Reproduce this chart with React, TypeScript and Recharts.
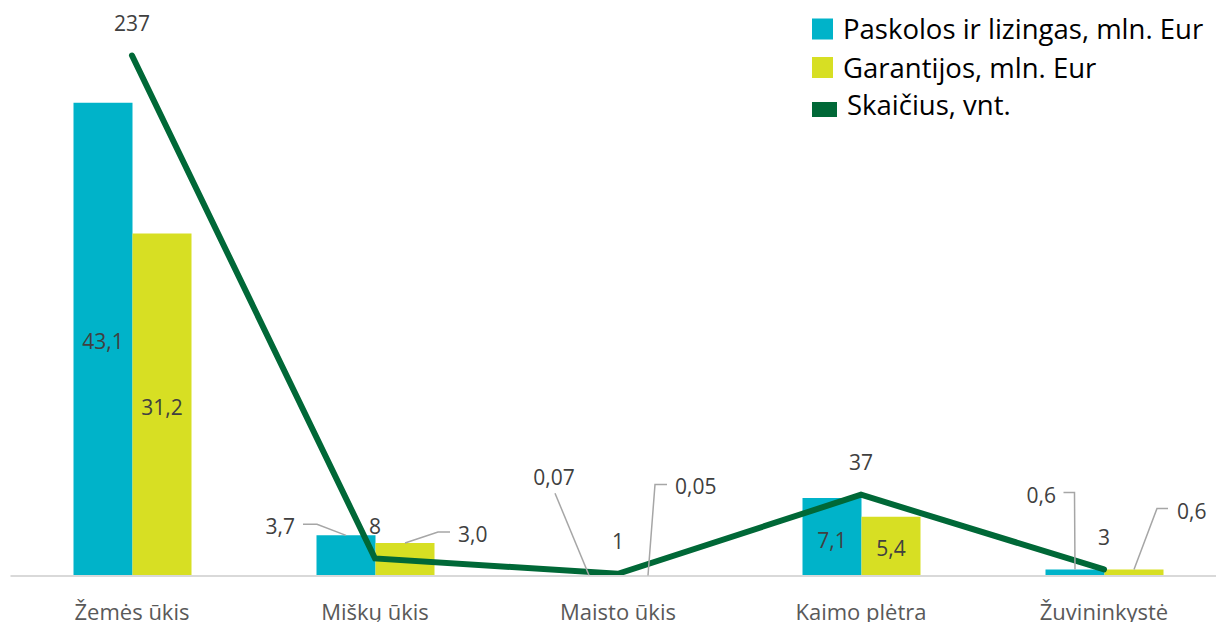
import React from 'react';
import { ComposedChart, Bar, Line, XAxis, YAxis, LabelList } from 'recharts';

const categories = ['Žemės ūkis', 'Miškų ūkis', 'Maisto ūkis', 'Kaimo plėtra', 'Žuvininkystė'];
const loans = [43.1, 3.7, 0.07, 7.1, 0.6];
const guarantees = [31.2, 3.0, 0.05, 5.4, 0.6];
const counts = [237, 8, 1, 37, 3];

const seriesNames = {
  loans: 'Paskolos ir lizingas, mln. Eur',
  guarantees: 'Garantijos, mln. Eur',
  counts: 'Skaičius, vnt.',
};

const COLORS = { loans: '#00B3C9', guarantees: '#D7DF23', counts: '#006837' };
const FONT = '"Open Sans", "Noto Sans", sans-serif';
const LABEL_SIZE = 21;
const CAP_HALF = 0.357 * LABEL_SIZE;

const data = categories.map((c, i) => ({
  name: c,
  loans: loans[i],
  guarantees: guarantees[i],
  counts: counts[i],
}));

type Layout =
  | { kind: 'inside'; dy: number }
  | { kind: 'callout'; elbow: number[] | null; end: number[]; text: number[]; anchor: 'start' | 'end' | 'middle' };

const loanLabelLayout: Layout[] = [
  { kind: 'inside', dy: 2.5 },
  { kind: 'callout', elbow: [-29, -11], end: [-43, -11], text: [-51, -9], anchor: 'end' },
  { kind: 'callout', elbow: null, end: [-34, -82], text: [-35, -98], anchor: 'middle' },
  { kind: 'inside', dy: 3 },
  { kind: 'callout', elbow: [-0.5, -77], end: [-11.5, -77], text: [-19, -74], anchor: 'end' },
];
const guaranteeLabelLayout: Layout[] = [
  { kind: 'inside', dy: 3 },
  { kind: 'callout', elbow: [33, -11], end: [45, -11], text: [53, -9], anchor: 'start' },
  { kind: 'callout', elbow: [7, -91], end: [19, -91], text: [27, -88.5], anchor: 'start' },
  { kind: 'inside', dy: 2 },
  { kind: 'callout', elbow: [23, -61], end: [34, -61], text: [43, -57.5], anchor: 'start' },
];

const fmt = (v: number) => v.toFixed(v < 0.1 ? 2 : 1).replace('.', ',');

const getBox = (p: any) => {
  const vb = p.viewBox || {};
  return {
    x: Number(p.x ?? vb.x),
    y: Number(p.y ?? vb.y),
    width: Number(p.width ?? vb.width ?? 0),
    height: Number(p.height ?? vb.height ?? 0),
  };
};

const makeBarLabel = (layouts: Layout[]) => (p: any) => {
  const { x, y, width, height } = getBox(p);
  const idx = p.index;
  const lay = layouts[idx];
  const val = typeof p.value === 'number' ? p.value : Number(p.value);
  if (!lay) return null;
  const cx = x + width / 2;
  const top = y;
  if (lay.kind === 'inside') {
    const cy = y + height / 2 + lay.dy;
    return (
      <text x={cx} y={cy + CAP_HALF} textAnchor="middle" fill="#404040" fontSize={LABEL_SIZE} fontFamily={FONT}>
        {fmt(val)}
      </text>
    );
  }
  const pts = [[cx, top]];
  if (lay.elbow) pts.push([cx + lay.elbow[0], top + lay.elbow[1]]);
  pts.push([cx + lay.end[0], top + lay.end[1]]);
  return (
    <g>
      <polyline points={pts.map((q) => q.join(',')).join(' ')} fill="none" stroke="#A6A6A6" strokeWidth={1.5} />
      <text
        x={cx + lay.text[0]}
        y={top + lay.text[1] + CAP_HALF}
        textAnchor={lay.anchor}
        fill="#404040"
        fontSize={LABEL_SIZE}
        fontFamily={FONT}
      >
        {fmt(val)}
      </text>
    </g>
  );
};

const lineLabel = (p: any) => {
  const { x, y } = getBox(p);
  return (
    <text x={x} y={y - 32 + CAP_HALF} textAnchor="middle" fill="#404040" fontSize={LABEL_SIZE} fontFamily={FONT}>
      {p.value}
    </text>
  );
};

const legendRows = [
  { key: 'loans', baseline: 39, mx: 812, my: 18.5, mw: 21, mh: 21, tx: 843 },
  { key: 'guarantees', baseline: 78, mx: 812, my: 57, mw: 21, mh: 21, tx: 843 },
  { key: 'counts', baseline: 115, mx: 812, my: 102, mw: 25, mh: 15, tx: 847 },
];

export default function App() {
  return (
    <div style={{ position: 'absolute', left: 0, top: 0, width: 1216, height: 622, overflow: 'hidden', background: '#fff' }}>
      <ComposedChart
        width={1240}
        height={622}
        data={data}
        margin={{ top: 27, right: 14.5, left: 10.5, bottom: 0 }}
        barCategoryGap={63}
        barGap={0}
      >
        <XAxis
          dataKey="name"
          height={46}
          tickLine={false}
          axisLine={{ stroke: '#D9D9D9', strokeWidth: 2 }}
          tick={{ fill: '#595959', fontSize: 22, fontFamily: FONT }}
          tickMargin={22}
          interval={0}
        />
        <YAxis yAxisId="left" domain={[0, 50]} hide />
        <YAxis yAxisId="right" orientation="right" domain={[0, 250]} hide />
        <Bar yAxisId="left" dataKey="loans" name={seriesNames.loans} fill={COLORS.loans} isAnimationActive={false}>
          <LabelList dataKey="loans" content={makeBarLabel(loanLabelLayout)} />
        </Bar>
        <Bar yAxisId="left" dataKey="guarantees" name={seriesNames.guarantees} fill={COLORS.guarantees} isAnimationActive={false}>
          <LabelList dataKey="guarantees" content={makeBarLabel(guaranteeLabelLayout)} />
        </Bar>
        <Line
          yAxisId="right"
          dataKey="counts"
          name={seriesNames.counts}
          type="linear"
          stroke={COLORS.counts}
          strokeWidth={6}
          strokeLinecap="round"
          dot={false}
          activeDot={false}
          isAnimationActive={false}
        >
          <LabelList dataKey="counts" content={lineLabel} />
        </Line>
      </ComposedChart>
      <svg width={1216} height={130} style={{ position: 'absolute', left: 0, top: 0 }}>
        {legendRows.map((r) => (
          <g key={r.key}>
            <rect x={r.mx} y={r.my} width={r.mw} height={r.mh} fill={(COLORS as any)[r.key]} />
            <text x={r.tx} y={r.baseline} fontSize={27.5} fontFamily={FONT} fill="#000000">
              {(seriesNames as any)[r.key]}
            </text>
          </g>
        ))}
      </svg>
    </div>
  );
}
